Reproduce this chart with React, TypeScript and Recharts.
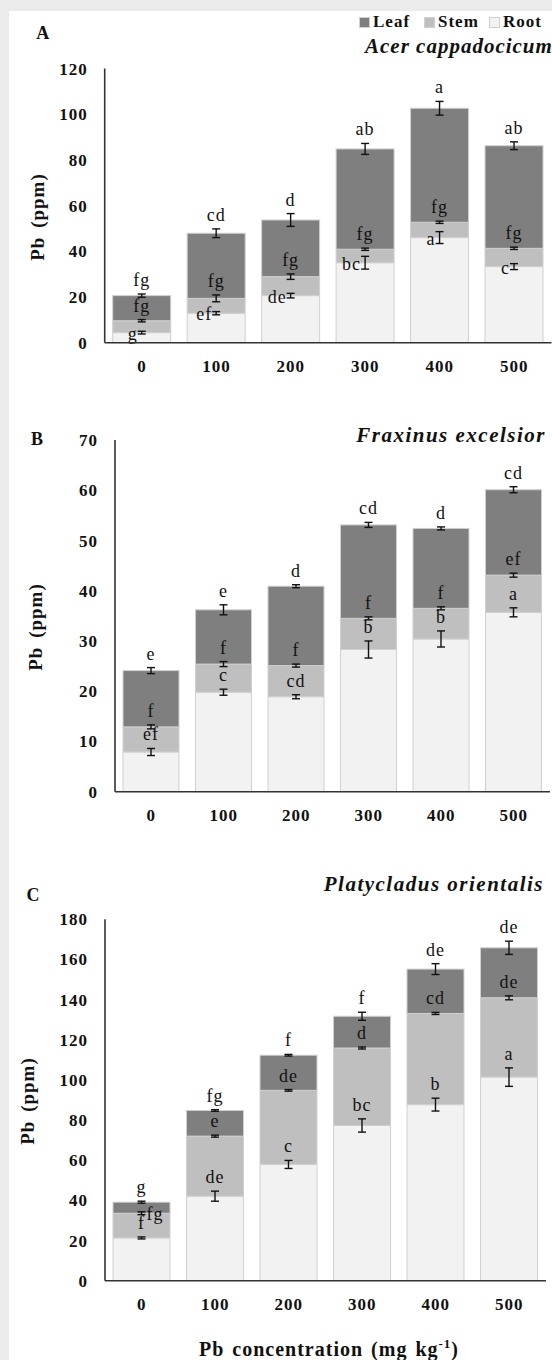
import { BarChart, Bar, XAxis, YAxis, Legend } from "recharts"

const SERIF = "'Liberation Serif', 'Times New Roman', serif"
const LEAF = "#7f7f7f"
const STEM = "#bfbfbf"
const ROOT = "#f2f2f2"
const EDGE = "#d0d0d0"
const INK = "#111111"

const doses = ["0", "100", "200", "300", "400", "500"]
const legendOrder = ["Leaf", "Stem", "Root"]

// A - Acer cappadocicum (segment heights, ppm; errors sit on the cumulative tops)
const acerRoot = [4.4, 12.9, 20.6, 35.0, 46.0, 33.3]
const acerStem = [5.2, 6.5, 8.3, 5.9, 6.7, 8.0]
const acerLeaf = [11.0, 28.5, 24.8, 43.9, 49.9, 44.9]
const acerRootErr = [0.6, 0.7, 1.0, 2.8, 2.6, 1.3]
const acerStemErr = [0.5, 1.5, 1.2, 0.5, 0.5, 0.5]
const acerLeafErr = [0.7, 1.9, 2.8, 2.4, 3.0, 1.7]
const acerRootLetters = ["g", "ef", "de", "bc", "a", "c"]
const acerStemLetters = ["fg", "fg", "fg", "fg", "fg", "fg"]
const acerLeafLetters = ["fg", "cd", "d", "ab", "a", "ab"]
const acerTicks = [0, 20, 40, 60, 80, 100, 120]

// B - Fraxinus excelsior
const fraxRoot = [7.9, 19.8, 18.9, 28.3, 30.4, 35.7]
const fraxStem = [5.0, 5.6, 6.2, 6.2, 6.1, 7.4]
const fraxLeaf = [11.2, 10.8, 15.8, 18.6, 15.9, 17.0]
const fraxRootErr = [0.7, 0.6, 0.4, 1.7, 1.6, 0.9]
const fraxStemErr = [0.4, 0.5, 0.3, 0.3, 0.3, 0.4]
const fraxLeafErr = [0.6, 1.0, 0.3, 0.5, 0.3, 0.6]
const fraxRootLetters = ["ef", "c", "cd", "b", "b", "a"]
const fraxStemLetters = ["f", "f", "f", "f", "f", "ef"]
const fraxLeafLetters = ["e", "e", "d", "cd", "d", "cd"]
const fraxTicks = [0, 10, 20, 30, 40, 50, 60, 70]

// C - Platycladus orientalis
const platRoot = [21.3, 42.1, 57.9, 77.3, 87.7, 101.4]
const platStem = [12.3, 29.9, 36.9, 38.6, 45.4, 39.5]
const platLeaf = [5.5, 12.8, 17.5, 15.8, 22.1, 24.9]
const platRootErr = [0.5, 2.5, 2.0, 3.3, 3.2, 4.6]
const platStemErr = [0.7, 0.5, 0.3, 0.5, 0.5, 1.0]
const platLeafErr = [0.5, 0.3, 0.4, 2.0, 2.7, 3.3]
const platRootLetters = ["f", "de", "c", "bc", "b", "a"]
const platStemLetters = ["fg", "e", "de", "d", "cd", "de"]
const platLeafLetters = ["g", "fg", "f", "f", "de", "de"]
const platTicks = [0, 20, 40, 60, 80, 100, 120, 140, 160, 180]

function buildRows(
  root: number[], stem: number[], leaf: number[],
  rootErr: number[], stemErr: number[], leafErr: number[],
  rootLet: string[], stemLet: string[], leafLet: string[]
) {
  return doses.map((dose, i) => ({
    dose,
    root: root[i], stem: stem[i], leaf: leaf[i],
    rootErr: rootErr[i], stemErr: stemErr[i], leafErr: leafErr[i],
    rootLetter: rootLet[i], stemLetter: stemLet[i], leafLetter: leafLet[i],
  }))
}

const acerRows = buildRows(acerRoot, acerStem, acerLeaf, acerRootErr, acerStemErr, acerLeafErr, acerRootLetters, acerStemLetters, acerLeafLetters)
const fraxRows = buildRows(fraxRoot, fraxStem, fraxLeaf, fraxRootErr, fraxStemErr, fraxLeafErr, fraxRootLetters, fraxStemLetters, fraxLeafLetters)
const platRows = buildRows(platRoot, platStem, platLeaf, platRootErr, platStemErr, platLeafErr, platRootLetters, platStemLetters, platLeafLetters)

// top segment draws itself plus every error bar + letter so they sit above all rects
function leafWithMarks(props: any, rootSide: boolean) {
  const { x, y, width, height, payload } = props
  if (!payload || !height) return <g />
  const ppu = height / payload.leaf
  const base = y + height + (payload.root + payload.stem) * ppu
  const cx = x + width / 2
  const tops = [payload.root, payload.root + payload.stem, payload.root + payload.stem + payload.leaf]
  const errs = [payload.rootErr, payload.stemErr, payload.leafErr]
  const letters = [payload.rootLetter, payload.stemLetter, payload.leafLetter]

  return (
    <g>
      <rect x={x} y={y} width={width} height={height} fill={LEAF} stroke={EDGE} strokeWidth={1} />
      {tops.map((v, i) => {
        const yy = base - v * ppu
        const d = Math.max(errs[i] * ppu, 0.8)
        // thin segment above -> letter goes beside the error bar instead of on top
        const crowded = i < 2 && (tops[i + 1] - v) * ppu < 18
        let side: "above" | "left" | "right" = "above"
        if (i === 0 && (rootSide || crowded)) side = "left"
        else if (i === 1 && crowded) side = "right"
        const tx = side === "left" ? cx - 4 : side === "right" ? cx + 5 : cx
        const ty = side === "above" ? yy - d - 8 : yy + 7
        const anchor = side === "left" ? "end" : side === "right" ? "start" : "middle"
        return (
          <g key={i}>
            <line x1={cx} x2={cx} y1={yy - d} y2={yy + d} stroke={INK} strokeWidth={1.4} />
            <line x1={cx - 4} x2={cx + 4} y1={yy - d} y2={yy - d} stroke={INK} strokeWidth={1.4} />
            <line x1={cx - 4} x2={cx + 4} y1={yy + d} y2={yy + d} stroke={INK} strokeWidth={1.4} />
            <text x={tx} y={ty} textAnchor={anchor} fontFamily={SERIF} fontSize={18} letterSpacing={1} fill={INK}>
              {letters[i]}
            </text>
          </g>
        )
      })}
    </g>
  )
}

function LegendBox({ payload }: any) {
  const items = [...(payload || [])].sort(
    (a: any, b: any) => legendOrder.indexOf(a.value) - legendOrder.indexOf(b.value)
  )
  return (
    <div style={{ display: "flex", fontFamily: SERIF, fontWeight: 700, fontSize: 17, letterSpacing: 1, lineHeight: "18px", color: INK }}>
      {items.map((it: any) => (
        <div key={it.value} style={{ display: "flex", alignItems: "center", width: 65 }}>
          <span style={{ width: 11, height: 11, background: it.color, border: `1px solid ${EDGE}`, boxSizing: "border-box", marginRight: 3 }} />
          <span>{it.value}</span>
        </div>
      ))}
    </div>
  )
}

const tickStyle = { fontSize: 17, fontWeight: 700, fill: INK, fontFamily: SERIF, letterSpacing: 1 }

interface PanelProps {
  rows: any[]
  ticks: number[]
  pageTop: number
  plotTop: number
  plotBottom: number
  axisX: number
  plotRight: number
  barSize: number
  rootSide?: boolean
  withLegend?: boolean
}

function Panel({ rows, ticks, pageTop, plotTop, plotBottom, axisX, plotRight, barSize, rootSide = false, withLegend = false }: PanelProps) {
  const xAxisHeight = 40
  return (
    <div style={{ position: "absolute", left: 0, top: pageTop }}>
      <BarChart
        width={plotRight}
        height={plotBottom - pageTop + xAxisHeight}
        data={rows}
        margin={{ top: plotTop - pageTop, right: 0, bottom: 0, left: 0 }}
        barSize={barSize}
      >
        <XAxis
          dataKey="dose"
          height={xAxisHeight}
          axisLine={{ stroke: "#333", strokeWidth: 1.6 }}
          tickLine={false}
          tickSize={0}
          tickMargin={17}
          interval={0}
          tick={tickStyle}
        />
        <YAxis
          width={axisX}
          domain={[0, ticks[ticks.length - 1]]}
          ticks={ticks}
          interval={0}
          axisLine={{ stroke: "#333", strokeWidth: 1.6 }}
          tickLine={false}
          tickSize={0}
          tickMargin={17}
          tick={tickStyle}
        />
        <Bar dataKey="root" name="Root" stackId="s" fill={ROOT} stroke={EDGE} strokeWidth={1} isAnimationActive={false} />
        <Bar dataKey="stem" name="Stem" stackId="s" fill={STEM} stroke={EDGE} strokeWidth={1} isAnimationActive={false} />
        <Bar
          dataKey="leaf"
          name="Leaf"
          stackId="s"
          fill={LEAF}
          isAnimationActive={false}
          shape={(p: any) => leafWithMarks(p, rootSide)}
        />
        {withLegend && (
          <Legend
            content={LegendBox}
            verticalAlign="middle"
            align="center"
            wrapperStyle={{ top: 13, left: 359, width: 195, height: 20 }}
          />
        )}
      </BarChart>
    </div>
  )
}

function Txt({ x, y, children, style }: any) {
  return (
    <div
      style={{
        position: "absolute",
        left: x,
        top: y,
        transform: "translate(-50%, -50%)",
        whiteSpace: "nowrap",
        lineHeight: 1,
        fontFamily: SERIF,
        color: INK,
        ...style,
      }}
    >
      {children}
    </div>
  )
}

const panelLetter = { fontSize: 18, fontWeight: 700 }
const titleStyle = { fontSize: 21, fontWeight: 700, fontStyle: "italic", letterSpacing: 1.5 }
const titleBox = { position: "absolute" as const, whiteSpace: "nowrap" as const, lineHeight: "21px", fontFamily: SERIF, color: INK }
const yLabel = { fontSize: 19, fontWeight: 700, letterSpacing: 1, wordSpacing: 3 }

export default function App() {
  return (
    <div style={{ position: "relative", width: 552, height: 1360, background: "#ebebeb", overflow: "hidden" }}>
      <style>{"body{margin:0}"}</style>
      <div style={{ position: "absolute", left: 9, top: 11, right: 0, bottom: 0, background: "#ffffff" }} />

      <Panel rows={acerRows} ticks={acerTicks} pageTop={0} plotTop={68.5} plotBottom={342.7} axisX={104.7} plotRight={551.5} barSize={58} rootSide withLegend />
      <Panel rows={fraxRows} ticks={fraxTicks} pageTop={400} plotTop={440} plotBottom={791.7} axisX={115} plotRight={550} barSize={56} />
      <Panel rows={platRows} ticks={platTicks} pageTop={880} plotTop={919.3} plotBottom={1280.7} axisX={105} plotRight={546} barSize={57} />

      <Txt x={42.7} y={33} style={panelLetter}>A</Txt>
      <Txt x={37} y={439} style={panelLetter}>B</Txt>
      <Txt x={33} y={895} style={panelLetter}>C</Txt>

      <div style={{ ...titleBox, ...titleStyle, left: 365, top: 36, letterSpacing: 1 }}>Acer cappadocicum</div>
      <div style={{ ...titleBox, ...titleStyle, right: 6, top: 425 }}>Fraxinus excelsior</div>
      <div style={{ ...titleBox, ...titleStyle, right: 8, top: 874 }}>Platycladus orientalis</div>

      <Txt x={37} y={217} style={{ ...yLabel, transform: "translate(-50%, -50%) rotate(-90deg)" }}>Pb (ppm)</Txt>
      <Txt x={35} y={627} style={{ ...yLabel, transform: "translate(-50%, -50%) rotate(-90deg)" }}>Pb (ppm)</Txt>
      <Txt x={27} y={1101} style={{ ...yLabel, transform: "translate(-50%, -50%) rotate(-90deg)" }}>Pb (ppm)</Txt>

      <Txt x={329} y={1348} style={{ fontSize: 20, fontWeight: 700, letterSpacing: 1, wordSpacing: 2 }}>
        Pb concentration (mg kg<sup style={{ fontSize: 13 }}>-1</sup>)
      </Txt>
    </div>
  )
}
